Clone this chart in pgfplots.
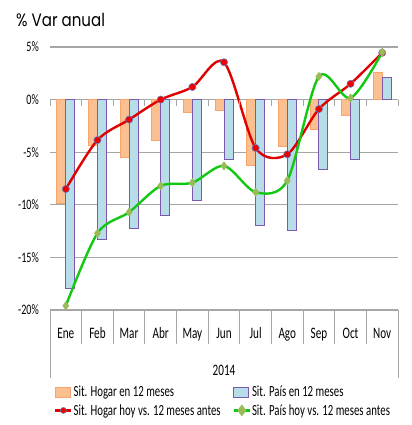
\documentclass[border=0pt]{standalone}
\usepackage{pgfplots}
\pgfplotsset{compat=1.18}
\usepackage{fontspec}
\setmainfont{Carlito}[FakeStretch=0.7]
\newfontfamily\titlefont{Poppins}[FakeStretch=0.84]
\definecolor{hogarbar}{HTML}{FAC090}
\definecolor{hogaredge}{HTML}{F9A46C}
\definecolor{paisbar}{HTML}{B7DEE8}
\definecolor{paisedge}{HTML}{7B5AAE}
\definecolor{hogarline}{HTML}{E00000}
\definecolor{hogarmark}{HTML}{F00000}
\definecolor{hogarmedge}{HTML}{5B7FC8}
\definecolor{paisline}{HTML}{12C812}
\definecolor{paismark}{HTML}{9BBB59}
\definecolor{gridc}{HTML}{A6A6A6}
\pgfplotstableread{
x hbar pbar hline pline
0 -9.9 -18.0 -8.5 -19.6
1 -4.4 -13.3 -3.85 -12.7
2 -5.5 -12.3 -1.9 -10.7
3 -3.9 -11.0 0.0 -8.2
4 -1.2 -9.6 1.2 -7.9
5 -1.05 -5.7 3.55 -6.3
6 -6.3 -12.0 -4.6 -8.8
7 -4.45 -12.4 -5.2 -7.7
8 -2.8 -6.6 -0.9 2.2
9 -1.5 -5.7 1.5 0.15
10 2.6 2.1 4.45 4.5
}\datatable
\begin{document}
\begin{tikzpicture}
\path[use as bounding box] (0bp,0bp) rectangle (412bp,425bp);
\node[anchor=base west, font=\titlefont\fontsize{18}{20}\selectfont, inner sep=0] at (16bp,398bp) {\% Var anual};
\begin{axis}[
  name=ax,
  at={(50bp,115bp)}, anchor=south west,
  scale only axis, width=348bp, height=263bp,
  xmin=-0.5, xmax=10.5, ymin=-20, ymax=5,
  clip=false,
  axis line style={draw=none},
  xtick=\empty,
  ytick={-20,-15,-10,-5,0,5},
  yticklabels={-20\%,-15\%,-10\%,-5\%,0\%,5\%},
  major tick length=0pt,
  yticklabel style={anchor=east, inner sep=0pt, xshift=-11bp, font=\fontsize{14.5}{16}\selectfont},
  ymajorgrids, grid style={gridc, line width=1.2bp},
  legend columns=2,
  legend cell align=left,
  legend style={at={(rel axis cs:0,0)}, anchor=north west, xshift=4bp, yshift=-75bp,
    draw=none, fill=none, font=\fontsize{15.5}{17}\selectfont,
    row sep=4bp, inner sep=0pt,
    nodes={inner sep=1bp},
    /tikz/every even column/.append style={column sep=11bp}},
]
\addplot[ybar, bar width=9bp, bar shift=-4.5bp, fill=hogarbar, draw=hogaredge, line width=0.8bp,
  legend image code/.code={\draw[fill=hogarbar, draw=hogaredge, line width=0.8bp] (0bp,-5bp) rectangle (15bp,5bp);}]
  table[x=x, y=hbar] {\datatable};
\addlegendentry{Sit. Hogar en 12 meses}
\addplot[ybar, bar width=9bp, bar shift=4.5bp, fill=paisbar, draw=paisedge, line width=1bp,
  legend image code/.code={\draw[fill=paisbar, draw=paisedge, line width=1bp] (0bp,-5bp) rectangle (15bp,5bp);}]
  table[x=x, y=pbar] {\datatable};
\addlegendentry{Sit. País en 12 meses}
\addplot[smooth, hogarline, line width=2.4bp, mark=*, mark size=3.6bp,
  mark options={fill=hogarmark, draw=hogarmedge, line width=0.6bp},
  legend image code/.code={\draw[hogarline, line width=2.4bp] (0bp,0bp) -- (16bp,0bp); \fill[hogarmark, draw=hogarmedge, line width=0.6bp] (8bp,0bp) circle (3bp);}]
  table[x=x, y=hline] {\datatable};
\addlegendentry{Sit. Hogar hoy vs. 12 meses antes}
\addplot[smooth, paisline, line width=2.4bp, mark=diamond*, mark size=4.2bp,
  mark options={fill=paismark, draw=paismark, line width=0.4bp},
  legend image code/.code={\draw[paisline, line width=2.4bp] (0bp,0bp) -- (16bp,0bp); \fill[paismark] (8bp,-4bp) -- (11bp,0bp) -- (8bp,4bp) -- (5bp,0bp) -- cycle;}]
  table[x=x, y=pline] {\datatable};
\addlegendentry{Sit. País hoy vs. 12 meses antes}
\end{axis}
% category table (decoration, relative to the axis)
\begin{scope}[shift={(ax.south west)}]
\foreach \k in {1,...,10} {
  \draw[gridc, line width=1bp] ({31.636bp*\k},0bp) -- ++(0bp,-34bp);
  \draw[gridc, line width=1bp] ({31.636bp*\k},210.4bp) -- ++(0bp,-6bp);
}
\draw[gridc, line width=1bp] (0bp,0bp) -- ++(0bp,-68bp);
\draw[gridc, line width=1bp] (348bp,0bp) -- ++(0bp,-68bp);
\draw[gridc, line width=1bp] (0bp,210.4bp) -- ++(0bp,-6bp);
\draw[gridc, line width=1bp] (348bp,210.4bp) -- ++(0bp,-6bp);
\foreach \lab [count=\i from 0] in {Ene,Feb,Mar,Abr,May,Jun,Jul,Ago,Sep,Oct,Nov} {
  \node[anchor=base, inner sep=0pt, font=\fontsize{16}{18}\selectfont] at ({31.636bp*(\i+0.5)},-29bp) {\lab};
}
\node[anchor=base, inner sep=0pt, font=\fontsize{16}{18}\selectfont] at (174bp,-66bp) {2014};
\end{scope}
\end{tikzpicture}
\end{document}
